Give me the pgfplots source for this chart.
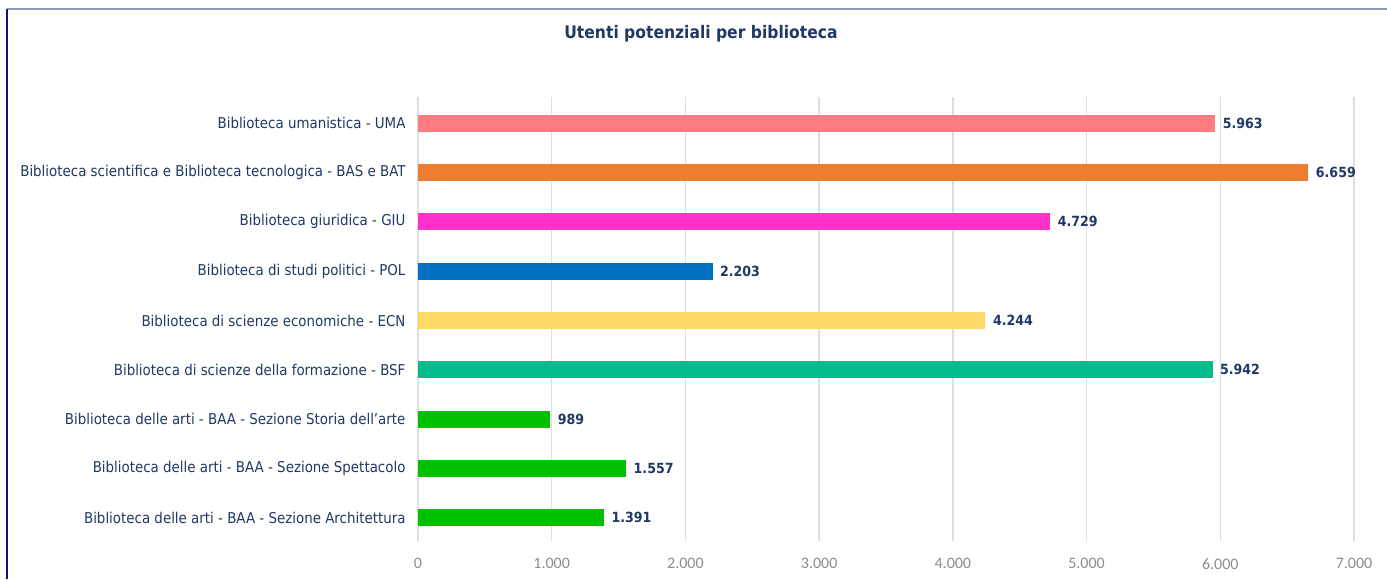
\documentclass[border=0pt]{standalone}
\usepackage{fontspec}
\setmainfont{DejaVu Sans Condensed}
\newfontfamily\tickfont{Carlito}
\usepackage{pgfplots}
\pgfplotsset{compat=1.18}

\definecolor{navytxt}{HTML}{203864}
\definecolor{cUMA}{HTML}{FF7C80}
\definecolor{cBAS}{HTML}{ED7D31}
\definecolor{cGIU}{HTML}{FF33CC}
\definecolor{cPOL}{HTML}{0070C0}
\definecolor{cECN}{HTML}{FFD966}
\definecolor{cBSF}{HTML}{03BC8E}
\definecolor{cBAA}{HTML}{00C000}

\begin{document}
\begin{tikzpicture}[x=1pt,y=1pt]
\path[use as bounding box] (0,0) rectangle (1387,-579);
% frame
\draw[line width=2pt, color={rgb,255:red,140;green,155;blue,190}] (7,-9) -- (1387,-9);
\draw[line width=2pt, color={rgb,255:red,20;green,20;blue,100}] (7,-9) -- (7,-579);
\node[font=\fontsize{17.3}{20}\selectfont\bfseries, text=navytxt] at (701,-34) {Utenti potenziali per biblioteca};

\begin{axis}[
    at={(418pt,-541pt)}, anchor=south west,
    scale only axis, width=936pt, height=444pt,
    xmin=0, xmax=7000, xtick distance=1000,
    ymin=-0.53, ymax=8.47, y dir=reverse,
    ytick={0,...,8},
    yticklabels={
        Biblioteca umanistica - UMA,
        Biblioteca scientifica e Biblioteca tecnologica - BAS e BAT,
        Biblioteca giuridica - GIU,
        Biblioteca di studi politici - POL,
        Biblioteca di scienze economiche - ECN,
        Biblioteca di scienze della formazione - BSF,
        Biblioteca delle arti - BAA - Sezione Storia dell'arte,
        Biblioteca delle arti - BAA - Sezione Spettacolo,
        Biblioteca delle arti - BAA - Sezione Architettura},
    yticklabel style={font=\fontsize{14.9}{17}\selectfont, text=navytxt, anchor=east, xshift=-9pt},
    xticklabel style={font=\tickfont\fontsize{16}{19}\selectfont, text=black!45, yshift=-14pt},
    /pgf/number format/1000 sep={.},
    /pgf/number format/assume math mode=true,
    axis line style={draw=none},
    major tick length=0pt,
    xmajorgrids, grid style={draw=black!13, line width=1.4pt},
    xbar, bar width=17pt, bar shift=0pt,
    point meta=explicit symbolic,
    nodes near coords,
    every node near coord/.append style={font=\fontsize{14}{16}\selectfont\bfseries, text=navytxt, anchor=west, xshift=4pt},
]
\addplot[draw=none, fill=cUMA] coordinates {(5963,0) [5.963]};
\addplot[draw=none, fill=cBAS] coordinates {(6659,1) [6.659]};
\addplot[draw=none, fill=cGIU] coordinates {(4729,2) [4.729]};
\addplot[draw=none, fill=cPOL] coordinates {(2203,3) [2.203]};
\addplot[draw=none, fill=cECN] coordinates {(4244,4) [4.244]};
\addplot[draw=none, fill=cBSF] coordinates {(5942,5) [5.942]};
\addplot[draw=none, fill=cBAA] coordinates {(989,6) [989]};
\addplot[draw=none, fill=cBAA] coordinates {(1557,7) [1.557]};
\addplot[draw=none, fill=cBAA] coordinates {(1391,8) [1.391]};
\end{axis}
\end{tikzpicture}
\end{document}
